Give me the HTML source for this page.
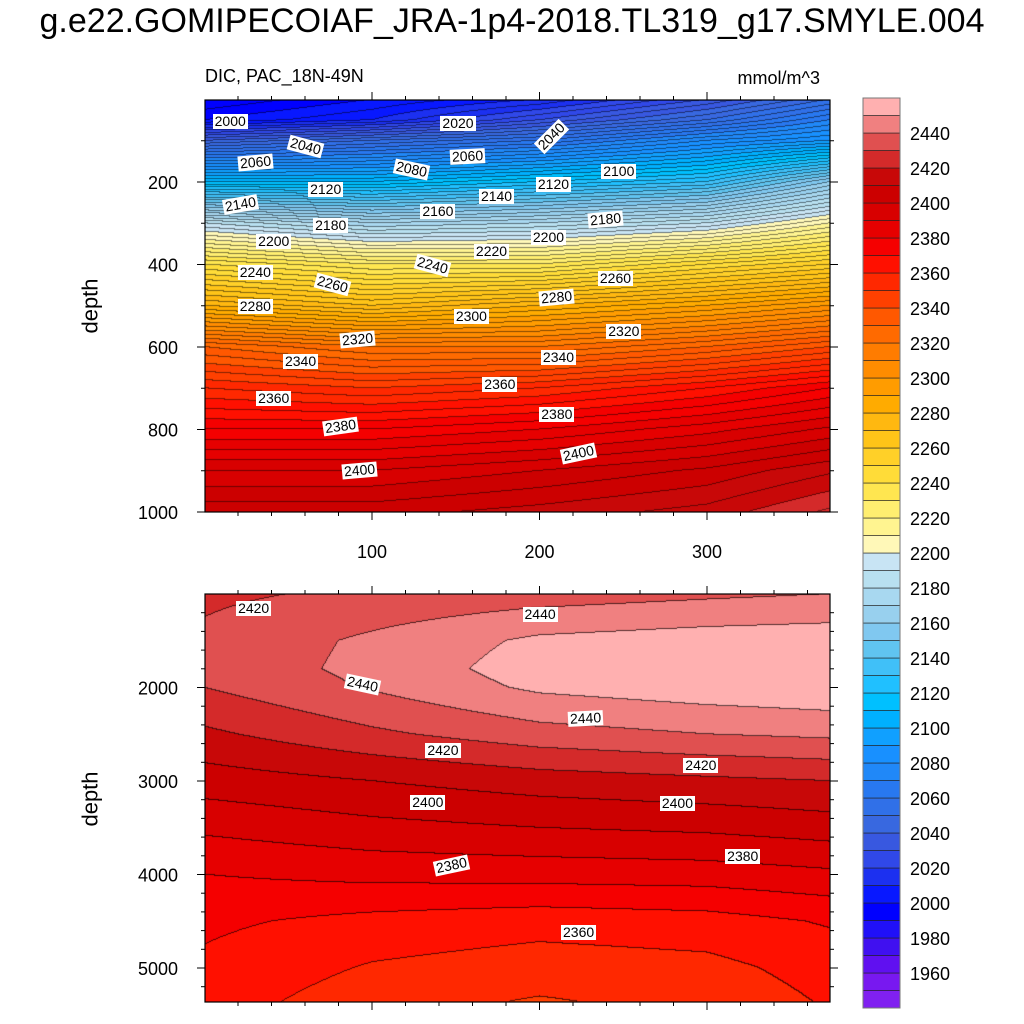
<!DOCTYPE html>
<html><head><meta charset="utf-8">
<style>
html,body{margin:0;padding:0;background:#fff;}
body{width:1024px;height:1024px;position:relative;overflow:hidden;font-family:"Liberation Sans",sans-serif;}
.t{position:absolute;white-space:nowrap;color:#000;}
canvas{position:absolute;}
.cl{position:absolute;background:#fff;font-size:14px;line-height:15px;padding:0 2px;transform-origin:center;white-space:nowrap;}
</style></head><body>
<div class="t" style="left:0;width:1024px;text-align:center;top:2px;font-size:34px;">g.e22.GOMIPECOIAF_JRA-1p4-2018.TL319_g17.SMYLE.004</div>
<div class="t" style="left:205px;top:66px;font-size:18px;">DIC, PAC_18N-49N</div>
<div class="t" style="left:680px;width:140px;text-align:right;top:68px;font-size:18px;">mmol/m^3</div>
<div class="t" style="left:63px;top:293px;font-size:22px;transform:rotate(-90deg);">depth</div>
<div class="t" style="left:63px;top:786px;font-size:22px;transform:rotate(-90deg);">depth</div>
<canvas id="ctop" width="625" height="412" style="left:205px;top:100px;"></canvas>
<canvas id="cbot" width="625" height="408" style="left:205px;top:594px;"></canvas>
<svg id="ov" width="1024" height="1024" style="position:absolute;left:0;top:0;"></svg>
<div id="labels"></div>
<script>
// ---- data ----
const xGrid = [0, 100, 200, 300, 373];
const topDepths = [0, 50, 100, 200, 300, 400, 500, 600, 700, 800, 900, 1000];
const topD0 = [1990, 2000, 2010, 2030, 2050];
const topD50 = [2000, 2010, 2030, 2050, 2070];
const topD100 = [2040, 2050, 2060, 2080, 2090];
const topD200 = [2110, 2110, 2120, 2130, 2160];
const topD300 = [2190, 2175, 2180, 2190, 2210];
const topD400 = [2240, 2230, 2230, 2245, 2255];
const topD500 = [2280, 2270, 2280, 2290, 2300];
const topD600 = [2330, 2320, 2320, 2330, 2340];
const topD700 = [2355, 2350, 2355, 2365, 2375];
const topD800 = [2375, 2375, 2380, 2388, 2396];
const topD900 = [2395, 2395, 2400, 2406, 2414];
const topD1000 = [2408, 2408, 2412, 2417, 2426];
const topVals = [topD0, topD50, topD100, topD200, topD300, topD400, topD500, topD600, topD700, topD800, topD900, topD1000];
const botDepths = [1000, 1500, 1800, 2000, 2500, 3000, 3500, 4000, 4500, 5000, 5365];
const botD1000 = [2428, 2432, 2435, 2438, 2440];
const botD1500 = [2432, 2442, 2452, 2455, 2456];
const botD1800 = [2433, 2443, 2455, 2458, 2460];
const botD2000 = [2430, 2441, 2452, 2456, 2458];
const botD2500 = [2418, 2428, 2436, 2440, 2442];
const botD3000 = [2405, 2410, 2415, 2418, 2420];
const botD3500 = [2392, 2397, 2400, 2402, 2405];
const botD4000 = [2380, 2383, 2384, 2385, 2388];
const botD4500 = [2372, 2367, 2364, 2366, 2371];
const botD5000 = [2368, 2359, 2355, 2357, 2364];
const botD5365 = [2365, 2354, 2349, 2353, 2361];
const botVals = [botD1000, botD1500, botD1800, botD2000, botD2500, botD3000, botD3500, botD4000, botD4500, botD5000, botD5365];
const levelMin = 1940, levelStep = 10;
const levelColors = ["#8020f0","#7818f0","#6010f0","#4010f0","#2010f8","#0000ff","#0818ff","#1c30f0","#3048e8","#3858e0","#3868e0","#3070e8","#2878f0","#2088f8","#1890ff","#10a0ff","#00b0ff","#00c0ff","#20c0ff","#40c0f8","#60c4f0","#80c8f0","#98d0ee","#a8d8f0","#b8e0f0","#c8e4f4","#fff8b8","#fff490","#ffee70","#ffe650","#ffdc38","#ffd028","#ffc418","#ffb810","#ffab00","#ff9c00","#ff8c00","#ff7c00","#ff6a00","#ff5800","#ff4000","#ff2800","#ff1000","#f50000","#e60000","#d80000","#cc0000","#c80808","#d42a2a","#e05050","#f08080","#ffb0b0"];
const cbTicks = [2440,2420,2400,2380,2360,2340,2320,2300,2280,2260,2240,2220,2200,2180,2160,2140,2120,2100,2080,2060,2040,2020,2000,1980,1960];
const topLabelX = [15,30,60,151,123,157,207,72,139,174,208,247,21,75,41,205,239,171,136,30,76,245,30,210,159,91,250,57,211,176,41,81,210,92,223];
const topLabelD = [55,154,115,59,171,139,91,219,273,236,207,176,256,307,345,336,292,370,404,420,450,435,503,481,527,583,564,636,627,692,726,794,765,901,859];
const topLabelV = [2000,2060,2040,2020,2080,2060,2040,2120,2160,2140,2120,2100,2140,2180,2200,2200,2180,2220,2240,2240,2260,2260,2280,2280,2300,2320,2320,2340,2340,2360,2360,2380,2380,2400,2400];
const topLabelA = [0,-5,15,0,12,-3,-45,0,0,0,0,0,-10,0,0,0,-5,0,15,0,15,0,0,-5,0,-5,0,0,0,0,0,-8,0,-5,-12];
const botLabelX = [29,200,94,227,142,296,133,282,147,321,223];
const botLabelD = [1160,1225,1973,2337,2679,2840,3235,3246,3909,3813,4626];
const botLabelV = [2420,2440,2440,2440,2420,2420,2400,2400,2380,2380,2360];
const botLabelA = [0,0,12,-3,0,0,0,0,-12,0,0];

// ---- axes ----
const PX0 = 205, PX1 = 830, XMAX = (830-204.5)/1.675;
function xs(x){ return 204.5 + x*1.675; }
function ysTop(d){ return 99.5 + d*0.4125; }
function ysBot(d){ return 594 + (d-1000)*0.0935; }

function interp(grid, depths, vals, x, d){
  let i = 0; while (i < depths.length-2 && d > depths[i+1]) i++;
  let j = 0; while (j < grid.length-2 && x > grid[j+1]) j++;
  let td = Math.max(0, Math.min(1, (d-depths[i])/(depths[i+1]-depths[i])));
  let tx = Math.max(0, Math.min(1, (x-grid[j])/(grid[j+1]-grid[j])));
  const a = vals[i][j], b = vals[i][j+1], c = vals[i+1][j], e = vals[i+1][j+1];
  return (a*(1-tx)+b*tx)*(1-td) + (c*(1-tx)+e*tx)*td;
}
function hex(c){ return [parseInt(c.substr(1,2),16),parseInt(c.substr(3,2),16),parseInt(c.substr(5,2),16)]; }
const rgb = levelColors.map(hex);

function drawPanel(id, depths, vals, ys, lineStep, shade){
  const cv = document.getElementById(id), ctx = cv.getContext('2d');
  const W = cv.width, H = cv.height, top = parseInt(cv.style.top);
  const d0 = depths[0], d1 = depths[depths.length-1];
  const V = new Float32Array(W*H);
  for (let r=0;r<H;r++){
    const py = top + r + 0.5;
    const d = d0 + (py - ys(d0)) / (ys(d1)-ys(d0)) * (d1-d0);
    for (let c=0;c<W;c++){
      const x = (PX0 + c + 0.5 - 204.5)/1.675;
      V[r*W+c] = interp(xGrid, depths, vals, x, d);
    }
  }
  const img = ctx.createImageData(W,H);
  for (let r=0;r<H;r++) for (let c=0;c<W;c++){
    const v = V[r*W+c];
    let k = Math.floor((v-levelMin)/levelStep); k = Math.max(0, Math.min(rgb.length-1, k));
    let col = rgb[k];
    const L = Math.floor(v/lineStep);
    let line = false;
    if (c<W-1 && Math.floor(V[r*W+c+1]/lineStep)!==L) line = true;
    if (r<H-1 && Math.floor(V[(r+1)*W+c]/lineStep)!==L) line = true;
    const p = (r*W+c)*4;
    const f = line ? shade : 1;
    img.data[p]=col[0]*f; img.data[p+1]=col[1]*f; img.data[p+2]=col[2]*f; img.data[p+3]=255;
  }
  ctx.putImageData(img,0,0);
}
drawPanel('ctop', topDepths, topVals, ysTop, 5, 0.5);
drawPanel('cbot', botDepths, botVals, ysBot, 10, 0.35);

// ---- overlay: frames, ticks, colorbar ----
const NS = "http://www.w3.org/2000/svg";
const ov = document.getElementById('ov');
function el(tag, attrs, name){
  const e = document.createElementNS(NS, tag);
  for (const k in attrs) e.setAttribute(k, attrs[k]);
  
  
  ov.appendChild(e); return e;
}
function line(x1,y1,x2,y2,name,w){ return el('line',{x1,y1,x2,y2,stroke:'#000','stroke-width':w||1},name); }
function text(x,y,s,anchor,name,size){ const t = el('text',{x,y,'font-size':size||18,'text-anchor':anchor,'font-family':'Liberation Sans, sans-serif'},name); t.textContent = s; return t; }

function frame(y0,y1,name){ el('rect',{x:PX0,y:y0,width:PX1-PX0,height:y1-y0,fill:'none',stroke:'#000','stroke-width':1.2},name); }
frame(100,512,'top-panel-frame');
frame(594,1002,'bottom-panel-frame');
for (let d=100; d<=1000; d+=100){
  const y = ysTop(d), maj = d%200===0, L = maj?8:4;
  line(PX0-L,y,PX0,y,'top-y-tick'); line(PX1,y,PX1+L,y,'top-y-tick-right');
  if (maj) text(178,y+7,String(d),'end','top-y-tick-label');
}
for (let d=1200; d<=5200; d+=200){
  const y = ysBot(d), maj = d%1000===0, L = maj?8:4;
  line(PX0-L,y,PX0,y,'bottom-y-tick'); line(PX1,y,PX1+L,y,'bottom-y-tick-right');
  if (maj) text(178,y+7,String(d),'end','bottom-y-tick-label');
}
for (let x=20; x<XMAX; x+=20){
  const px = xs(x), maj = x%100===0, L = maj?8:4;
  line(px,512,px,512+L,'top-x-tick'); line(px,100-L,px,100,'top-x-tick-top');
  line(px,1002,px,1002+L,'bottom-x-tick'); line(px,594-L,px,594,'bottom-x-tick-top');
  if (maj) text(px,558,String(x),'middle','x-tick-label');
}
const cbTop = 98, cbH = 17.5;
for (let k=0;k<levelColors.length;k++){
  const lev = levelMin + k*levelStep;
  const y = cbTop + (2460 - lev - levelStep)/levelStep*cbH;
  el('rect',{x:863,y:y,width:37,height:cbH,fill:levelColors[k],stroke:'#222','stroke-width':0.6},'colorbar-box');
}
el('rect',{x:863,y:98,width:37,height:levelColors.length*cbH,fill:'none',stroke:'#777','stroke-width':1},'colorbar-frame');
cbTicks.forEach(v=>{ const y = cbTop + (2460-v)/levelStep*cbH; text(910,y+7,String(v),'start','colorbar-label'); });

const lab = document.getElementById('labels');
function addLabel(px,py,v,a,name){
  const d = document.createElement('div');
  d.className='cl'; d.textContent=String(v);
  
  
  d.style.left=(px-17)+'px'; d.style.top=(py-8)+'px';
  d.style.transform='rotate('+a+'deg)';
  lab.appendChild(d);
}
topLabelX.forEach((x,i)=>addLabel(xs(x),ysTop(topLabelD[i]),topLabelV[i],topLabelA[i],'top-contour-label'));
botLabelX.forEach((x,i)=>addLabel(xs(x),ysBot(botLabelD[i]),botLabelV[i],botLabelA[i],'bottom-contour-label'));
</script>
</body></html>
